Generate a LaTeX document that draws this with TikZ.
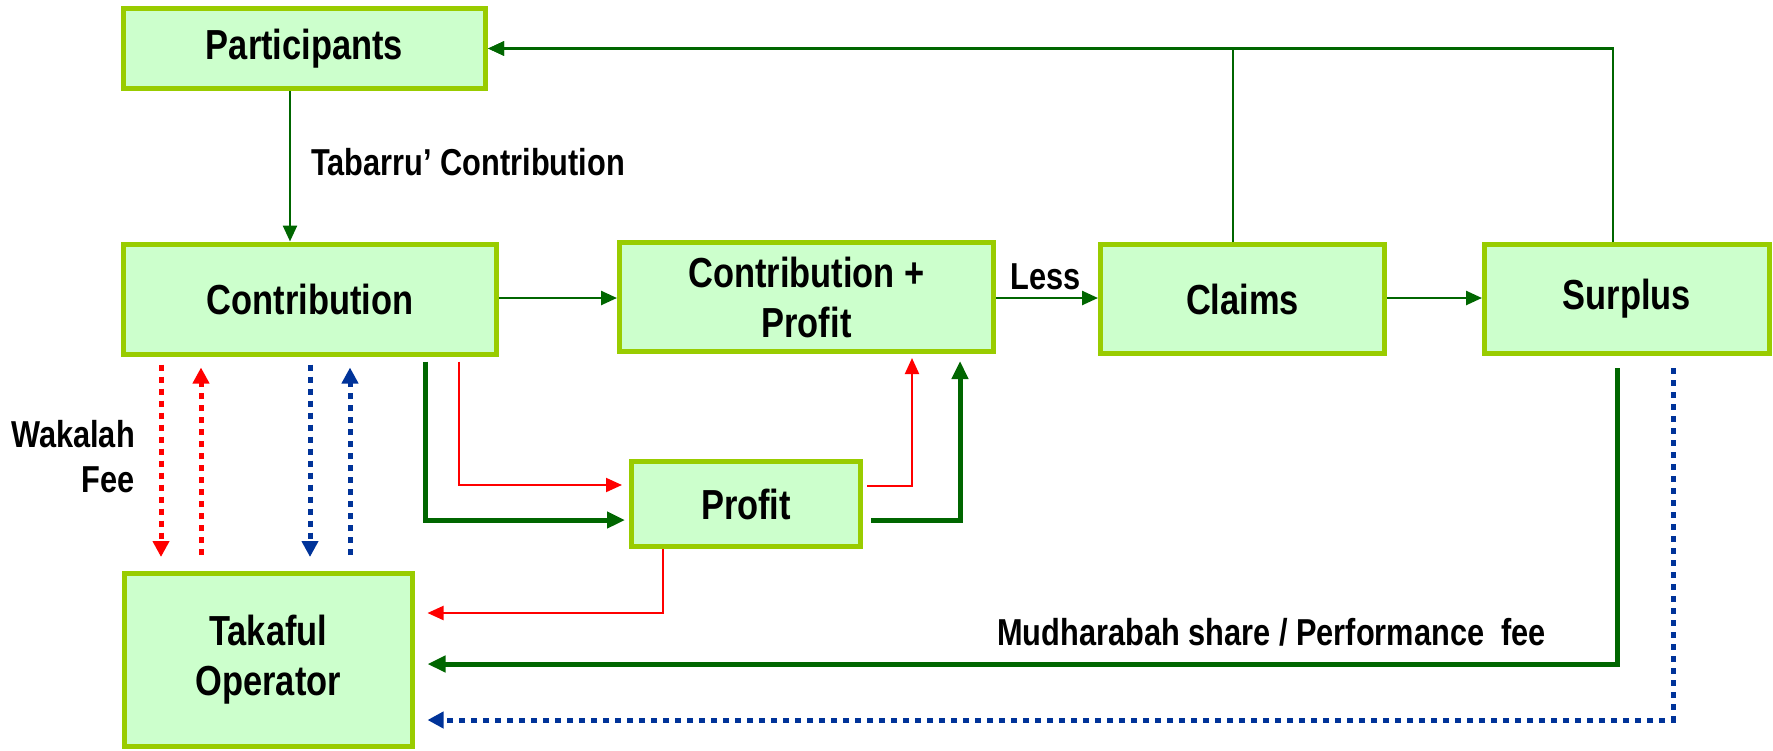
\documentclass[tikz,border=0pt]{standalone}
\usepackage{fontspec}
\setmainfont[FakeStretch=0.82]{Liberation Sans}
\usetikzlibrary{arrows.meta,calc}
\definecolor{boxfill}{HTML}{CCFFCC}
\definecolor{boxline}{HTML}{99CC00}
\definecolor{dgreen}{HTML}{006600}
\definecolor{dblue}{HTML}{003399}
\definecolor{bred}{HTML}{FF0000}
\begin{document}
\begin{tikzpicture}[x=1pt,y=-1pt,
  box/.style={draw=boxline, fill=boxfill, line width=5pt, font=\bfseries\fontsize{42}{50}\selectfont, align=center, inner sep=0pt},
  lbl/.style={font=\bfseries\fontsize{37.5}{45}\selectfont, inner sep=0pt},
  garr/.style={draw=dgreen, line width=2.5pt, -{Triangle[length=16pt,width=14pt]}},
  gthick/.style={draw=dgreen, line width=5pt, -{Triangle[length=18pt,width=16pt]}},
  rarr/.style={draw=bred, line width=2pt, -{Triangle[length=16pt,width=14pt]}},
  rdot/.style={draw=bred, line width=5pt, dash pattern=on 6pt off 6pt, -{Triangle[length=16pt,width=16pt]}},
  bdot/.style={draw=dblue, line width=5pt, dash pattern=on 6pt off 6pt, -{Triangle[length=16pt,width=16pt]}}
]
\useasboundingbox (0,0) rectangle (1773,750);

% boxes
\node[box, minimum width=362pt, minimum height=80pt] (P) at (304.5,48.5) {Participants};
\node[box, minimum width=373pt, minimum height=110pt] (C) at (310,299) {Contribution};
\node[box, minimum width=374pt, minimum height=109pt] (CP) at (806.5,297) {Contribution +\\Profit};
\node[box, minimum width=284pt, minimum height=109pt] (Claims) at (1242.5,299) {Claims};
\node[box, minimum width=285pt, minimum height=109pt] (Surplus) at (1627,299) {Surplus};
\node[box, minimum width=229pt, minimum height=85pt] (Profit) at (746,504) {Profit};
\node[box, minimum width=287.5pt, minimum height=173pt] (TO) at (268.25,660) {Takaful\\Operator};

% labels
\node[lbl, anchor=base west] (tab) at (311,175) {Tabarru’ Contribution};
\node[lbl, anchor=base] (less) at (1046,289) {Less};
\node[lbl, anchor=base east] (wak) at (135,447) {Wakalah};
\node[lbl, anchor=base east] (fee) at (135,492) {Fee};
\node[lbl, anchor=base west] (mud) at (997,645) {Mudharabah share / Performance\ \ fee};

% top row connectors
\draw[garr] (P.south -| 290,0) -- (C.north -| 290,0);
\draw[garr] (C.east |- 0,298) -- (CP.west |- 0,298);
\draw[garr] (CP.east |- 0,298) -- (Claims.west |- 0,298);
\draw[garr] (Claims.east |- 0,298) -- (Surplus.west |- 0,298);
\draw[garr] (Claims.north -| 1233,0) |- (P.east);
\draw[garr] (Surplus.north -| 1613,0) |- (P.east);

% wakalah dotted arrows
\draw[rdot] ($(C.south -| 161,0)+(0,8)$) -- ($(TO.north -| 161,0)+(0,-14)$);
\draw[rdot] ($(TO.north -| 201,0)+(0,-16)$) -- ($(C.south -| 201,0)+(0,11)$);
\draw[bdot] ($(C.south -| 310,0)+(0,8)$) -- ($(TO.north -| 310,0)+(0,-14)$);
\draw[bdot] ($(TO.north -| 350,0)+(0,-16)$) -- ($(C.south -| 350,0)+(0,11)$);

% contribution to profit
\draw[gthick] ($(C.south -| 425,0)+(0,5)$) |- ($(Profit.west |- 0,520)+(-4,0)$);
\draw[rarr] ($(C.south -| 459,0)+(0,5)$) |- ($(Profit.west |- 0,485)+(-7,0)$);

% profit out
\draw[rarr] (Profit.south -| 663,0) |- ($(TO.east |- 0,613)+(13,0)$);
\draw[rarr] ($(Profit.east |- 0,486)+(4,0)$) -| ($(CP.south -| 912,0)+(0,4)$);
\draw[gthick] ($(Profit.east |- 0,520)+(8,0)$) -| ($(CP.south -| 960,0)+(0,7)$);

% surplus to operator
\draw[gthick] ($(Surplus.south -| 1617,0)+(0,12)$) |- ($(TO.east |- 0,664)+(13,0)$);
\draw[bdot] ($(Surplus.south -| 1673,0)+(0,12)$) |- ($(TO.east |- 0,720)+(13,0)$);
\end{tikzpicture}
\end{document}
